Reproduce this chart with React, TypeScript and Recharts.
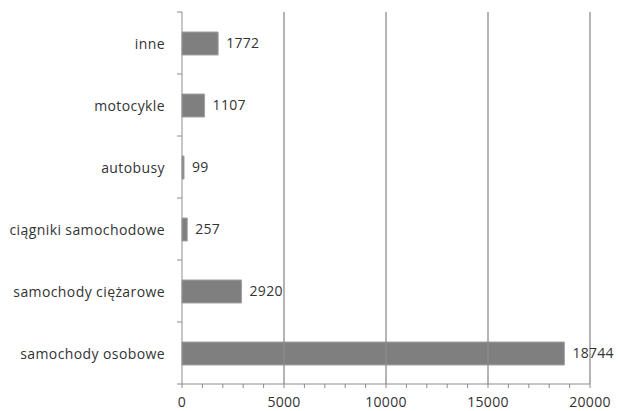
import { Bar, BarChart, LabelList, ReferenceLine, XAxis, YAxis } from "recharts";

const categories = [
  "inne",
  "motocykle",
  "autobusy",
  "ciągniki samochodowe",
  "samochody ciężarowe",
  "samochody osobowe",
];
const counts = [1772, 1107, 99, 257, 2920, 18744];

const majorTicks = [0, 5000, 10000, 15000, 20000];
const minorTicks = [
  0, 1000, 2000, 3000, 4000, 5000, 6000, 7000, 8000, 9000, 10000, 11000, 12000,
  13000, 14000, 15000, 16000, 17000, 18000, 19000, 20000,
];

const WIDTH = 618;
const HEIGHT = 411;
const TOP = 12;
const AXIS_W = 182;
const XAXIS_H = 27;
const BAND = (HEIGHT - TOP - XAXIS_H) / categories.length;

const FONT = "'Open Sans', sans-serif";
const TEXT = "#333";
const LINE = "#8c8c8c";

const rows = categories.map((name, i) => ({ name, value: counts[i] }));

function CategoryTick({ y, payload, index }: any) {
  const top = y - BAND / 2;
  return (
    <g>
      <line x1={AXIS_W - 5} x2={AXIS_W} y1={top} y2={top} stroke={LINE} />
      {index === categories.length - 1 && (
        <line x1={AXIS_W - 5} x2={AXIS_W} y1={y + BAND / 2} y2={y + BAND / 2} stroke={LINE} />
      )}
      <text
        x={AXIS_W - 17}
        y={y}
        textAnchor="end"
        dominantBaseline="central"
        fill={TEXT}
        fontSize={14}
        letterSpacing={0.4}
        fontFamily={FONT}
      >
        {payload.value}
      </text>
    </g>
  );
}

function ValueTick({ x, payload }: any) {
  if (!majorTicks.includes(payload.value)) return null;
  return (
    <text
      x={x}
      y={HEIGHT - 4}
      textAnchor="middle"
      fill={TEXT}
      fontSize={14}
      letterSpacing={0.3}
      fontFamily={FONT}
    >
      {payload.value}
    </text>
  );
}

export default function App() {
  return (
    <div style={{ position: "absolute", left: 0, top: 0, background: "#fff" }}>
      <BarChart
        width={WIDTH}
        height={HEIGHT}
        data={rows}
        layout="vertical"
        margin={{ top: TOP, right: 28, bottom: 0, left: 0 }}
        barSize={23}
      >
        <XAxis
          type="number"
          domain={[0, 20000]}
          ticks={minorTicks}
          interval={0}
          height={XAXIS_H}
          axisLine={{ stroke: LINE }}
          tickLine={{ stroke: LINE }}
          tickSize={4}
          tick={<ValueTick />}
        />
        <YAxis
          type="category"
          dataKey="name"
          width={AXIS_W}
          axisLine={{ stroke: LINE }}
          tickLine={false}
          interval={0}
          tick={<CategoryTick />}
        />
        {majorTicks.slice(1).map((v) => (
          <ReferenceLine key={v} x={v} stroke={LINE} strokeWidth={1.3} />
        ))}
        <Bar dataKey="value" fill="#7f7f7f" stroke="#a3a3a3" isAnimationActive={false}>
          <LabelList
            dataKey="value"
            position="right"
            offset={8}
            fill={TEXT}
            fontSize={14}
            letterSpacing={0.3}
            fontFamily={FONT}
          />
        </Bar>
      </BarChart>
    </div>
  );
}
